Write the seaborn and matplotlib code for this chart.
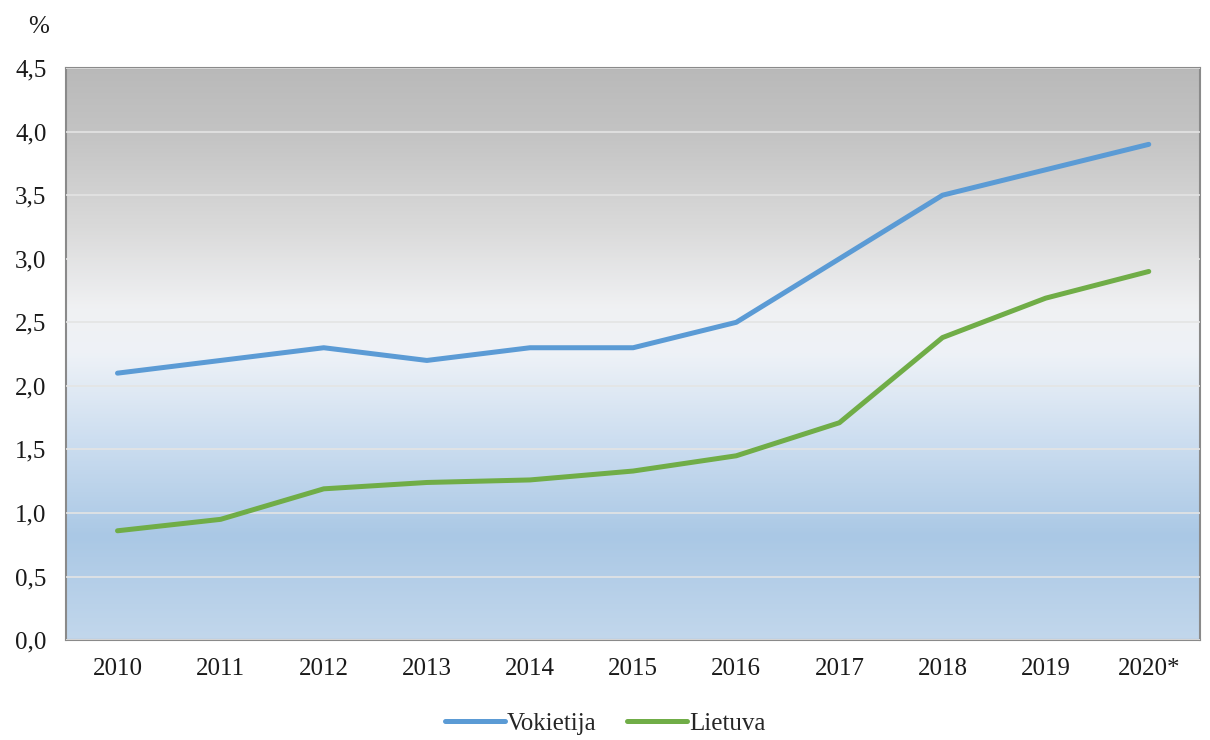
import numpy as np
import pandas as pd
import seaborn as sns
import matplotlib.pyplot as plt
from matplotlib.colors import LinearSegmentedColormap
from matplotlib.ticker import FuncFormatter

# data
years = ['2010', '2011', '2012', '2013', '2014', '2015', '2016', '2017', '2018', '2019', '2020*']
vokietija = [2.1, 2.2, 2.3, 2.2, 2.3, 2.3, 2.5, 3.0, 3.5, 3.7, 3.9]
lietuva = [0.86, 0.95, 1.19, 1.24, 1.26, 1.33, 1.45, 1.71, 2.38, 2.69, 2.9]
series_names = ['Vokietija', 'Lietuva']
colors = ['#5b9bd5', '#70ad47']

data = pd.DataFrame({
    'metai': years * 2,
    'reiksme': vokietija + lietuva,
    'serija': np.repeat(series_names, len(years)),
})

sns.set_style('white')
plt.rcParams['font.family'] = ['Liberation Serif', 'DejaVu Serif']

fig = plt.figure(figsize=(12.1, 7.4), dpi=100)
ax = fig.add_axes([0.0545, 0.135, 0.9375, 0.773])

# background gradient: grey on top, white in the middle, light blue below
bg = LinearSegmentedColormap.from_list('bg', [
    (0.0, '#c2d7ec'),
    (0.18, '#aac8e5'),
    (0.35, '#cddef0'),
    (0.50, '#eef2f7'),
    (0.58, '#f0f1f3'),
    (0.72, '#dadada'),
    (0.88, '#c4c4c4'),
    (1.0, '#b9b9b9'),
])
grad = np.linspace(0, 1, 256).reshape(-1, 1)
ax.imshow(grad, aspect='auto', cmap=bg, origin='lower',
          extent=[0, 1, 0, 1], transform=ax.transAxes, zorder=0)

sns.lineplot(data=data, x='metai', y='reiksme', hue='serija', palette=colors,
             linewidth=3.6, sort=False, ax=ax, zorder=3)

ax.set_xlim(-0.5, 10.5)
ax.set_ylim(0, 4.5)
ax.set_yticks(np.arange(0, 4.51, 0.5))
ax.yaxis.set_major_formatter(FuncFormatter(lambda v, p: f'{v:.1f}'.replace('.', ',')))
ax.grid(axis='y', color='#e4e4e4', linewidth=1.2, zorder=1)
ax.set_axisbelow(False)
for line in ax.get_ygridlines():
    line.set_zorder(1)
ax.set_xlabel('')
ax.set_ylabel('')
ax.tick_params(axis='both', length=0, labelsize=18, colors='#1a1a1a')
ax.tick_params(axis='y', pad=14)
ax.tick_params(axis='x', pad=13)
for s in ax.spines.values():
    s.set_color('#8a8a8a')
    s.set_linewidth(1.5)

fig.text(0.032, 0.963, '%', fontsize=18, ha='center', va='center', color='#1a1a1a')

handles, labels = ax.get_legend_handles_labels()
ax.legend(handles, labels, loc='center', bbox_to_anchor=(0.5, 0.022),
          bbox_transform=fig.transFigure, ncol=2, frameon=False, fontsize=18,
          handlelength=2.4, handletextpad=0.1, columnspacing=1.2)

fig.savefig('out.png', dpi=100)
